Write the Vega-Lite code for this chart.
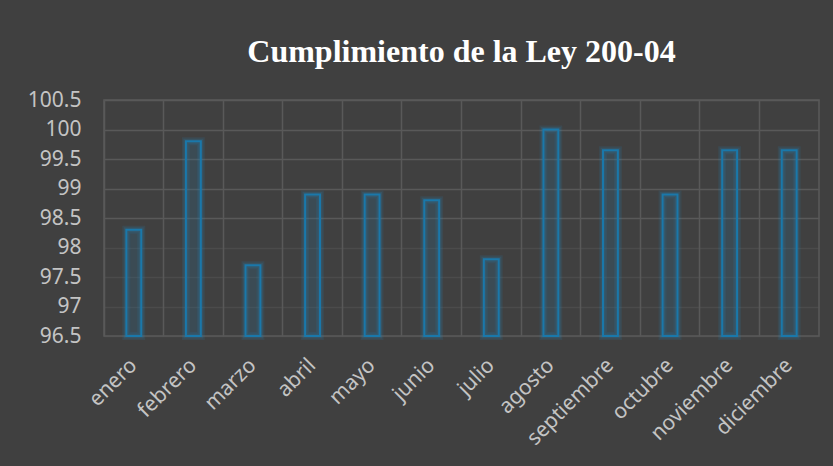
{
  "$schema": "https://vega.github.io/schema/vega-lite/v6.json",
  "autosize": {"type": "none"},
  "width": 715,
  "height": 236,
  "padding": {"left": 104, "top": 100, "right": 14, "bottom": 130},
  "background": "#404040",
  "title": {
    "text": "Cumplimiento de la Ley 200-04",
    "font": "Liberation Serif",
    "fontSize": 32,
    "fontWeight": "bold",
    "color": "#ffffff",
    "anchor": "middle",
    "offset": 20
  },
  "config": {
    "view": {"stroke": "#595959", "strokeWidth": 1.5},
    "axis": {
      "labelFont": "Noto Sans",
      "labelColor": "#c4c4c4",
      "gridColor": "#595959",
      "gridWidth": 1.5,
      "domain": false,
      "ticks": false,
      "title": null
    }
  },
  "data": {
    "values": [
      {"mes": "enero", "valor": 98.3},
      {"mes": "febrero", "valor": 99.8},
      {"mes": "marzo", "valor": 97.7},
      {"mes": "abril", "valor": 98.9},
      {"mes": "mayo", "valor": 98.9},
      {"mes": "junio", "valor": 98.8},
      {"mes": "julio", "valor": 97.8},
      {"mes": "agosto", "valor": 100.0},
      {"mes": "septiembre", "valor": 99.65},
      {"mes": "octubre", "valor": 98.9},
      {"mes": "noviembre", "valor": 99.65},
      {"mes": "diciembre", "valor": 99.65}
    ]
  },
  "encoding": {
    "x": {
      "field": "mes",
      "type": "nominal",
      "sort": null,
      "scale": {"paddingInner": 0, "paddingOuter": 0},
      "axis": {
        "labelAngle": -45,
        "labelAlign": "right",
        "labelBaseline": "middle",
        "labelFontSize": 21,
        "labelPadding": 26,
        "tickSize": 0,
        "grid": true,
        "bandPosition": 0
      }
    },
    "y": {
      "field": "valor",
      "type": "quantitative",
      "scale": {"domain": [96.5, 100.5], "zero": false, "nice": false},
      "axis": {
        "values": [96.5, 97, 97.5, 98, 98.5, 99, 99.5, 100, 100.5],
        "format": "~f",
        "labelFontSize": 21,
        "labelPadding": 23,
        "tickSize": 0,
        "gridOpacity": {"condition": {"test": "datum.value < 98.2", "value": 0.45}, "value": 1}
      }
    },
    "y2": {"datum": 96.5}
  },
  "layer": [
    {
      "mark": {"type": "bar", "width": {"band": 0.25}, "fill": null, "stroke": "#1f8dc7", "strokeWidth": 8, "strokeOpacity": 0.12}
    },
    {
      "mark": {"type": "bar", "width": {"band": 0.25}, "fill": null, "stroke": "#1f8dc7", "strokeWidth": 5, "strokeOpacity": 0.15}
    },
    {
      "mark": {"type": "bar", "width": {"band": 0.25}, "fill": "#2a6a90", "fillOpacity": 0.25, "stroke": "#1a78aa", "strokeWidth": 2}
    }
  ]
}
